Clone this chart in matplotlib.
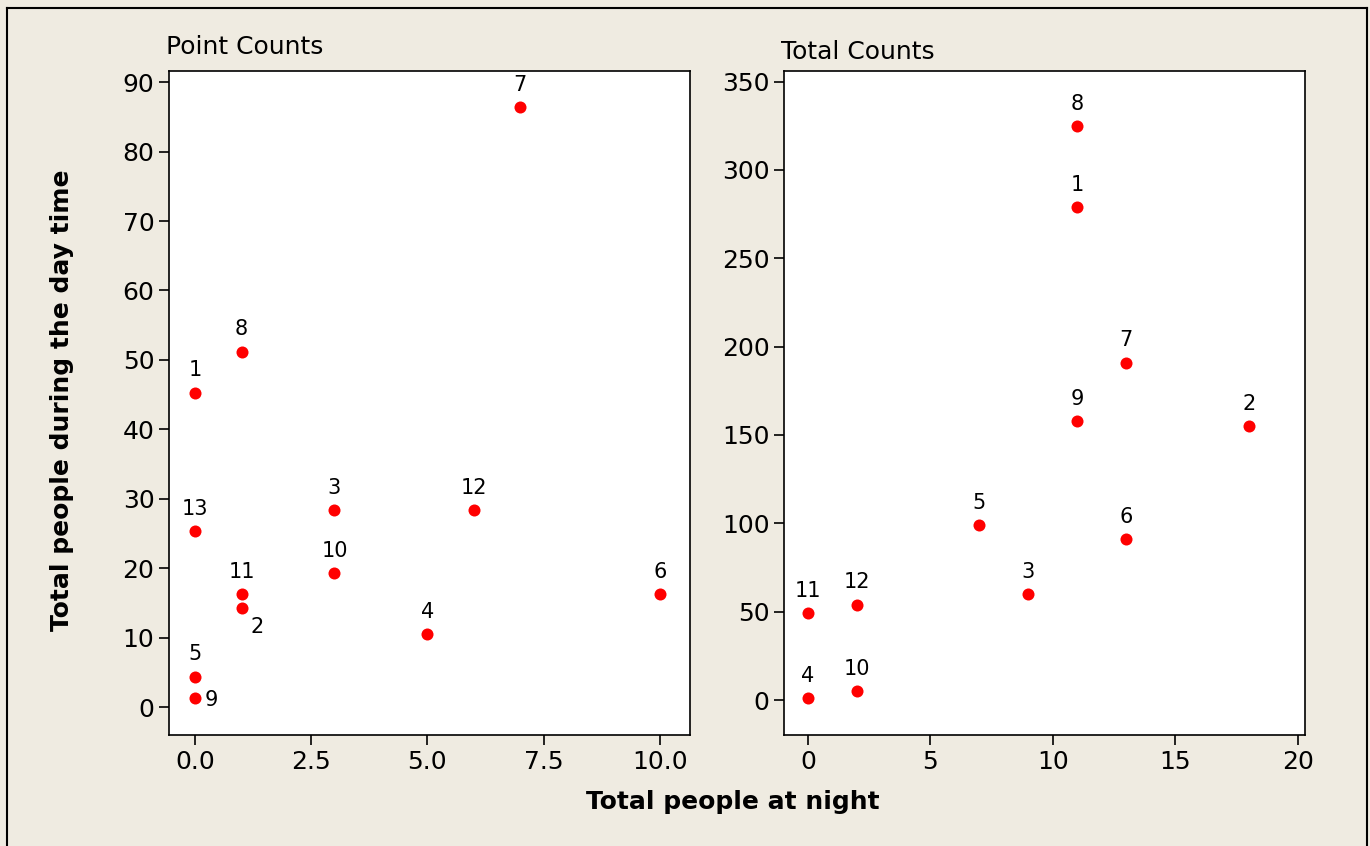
import matplotlib
matplotlib.use("Agg")
import matplotlib.pyplot as plt
from matplotlib.lines import Line2D

# point counts panel
pc_ids = ['1', '8', '7', '13', '3', '12', '10', '11', '2', '6', '4', '5', '9']
pc_night = [0, 1, 7, 0, 3, 6, 3, 1, 1, 10, 5, 0, 0]
pc_day = [45.3, 51.2, 86.4, 25.3, 28.4, 28.4, 19.3, 16.3, 14.3, 16.3, 10.5, 4.4, 1.3]

# total counts panel
tc_ids = ['8', '1', '7', '9', '2', '5', '6', '3', '11', '12', '10', '4']
tc_night = [11, 11, 13, 11, 18, 7, 13, 9, 0, 2, 2, 0]
tc_day = [325, 279, 191, 158, 155, 99, 91, 60, 49, 54, 5, 1]

# labels that sit beside the point instead of above it (offsets in points)
side_offsets = {'2': (11, -14), '9': (12, -1)}

bg = '#EFEBE1'
fig = plt.figure(figsize=(13.7, 8.46), dpi=100, facecolor=bg)

# thin frame around the graph region
for xs, ys in [((7/1370, 7/1370), (0, 1 - 8/846)),
               ((7/1370, 1367/1370), (1 - 8/846, 1 - 8/846)),
               ((1367/1370, 1367/1370), (1 - 8/846, 0))]:
    fig.add_artist(Line2D(xs, ys, transform=fig.transFigure, color='black', lw=1.5))

ax1 = fig.add_axes([169/1370, 1 - 735/846, 521/1370, 664/846])
ax2 = fig.add_axes([784/1370, 1 - 735/846, 521/1370, 664/846])


def draw_panel(ax, xs, ys, ids, title, title_y, offsets):
    ax.set_facecolor('white')
    ax.scatter(xs, ys, s=75, color='#FF0000', zorder=3, linewidths=0)
    for x, y, lab in zip(xs, ys, ids):
        off = offsets.get(lab, (0, 16))
        ax.annotate(lab, (x, y), xytext=off, textcoords='offset points',
                    ha='center', va='center', fontsize=15)
    for sp in ax.spines.values():
        sp.set_linewidth(1.2)
    ax.tick_params(direction='out', length=7, width=1.2, labelsize=18,
                   top=False, right=False)
    ax.set_title(title, fontsize=18, loc='left', x=-0.005, y=title_y, pad=0)


draw_panel(ax1, pc_night, pc_day, pc_ids, 'Point Counts', 1.025, side_offsets)
ax1.set_xlim(-0.56, 10.65)
ax1.set_ylim(-4.0, 91.6)
ax1.set_xticks([0, 2.5, 5, 7.5, 10])
ax1.set_xticklabels(['0.0', '2.5', '5.0', '7.5', '10.0'])
ax1.set_yticks(range(0, 91, 10))

draw_panel(ax2, tc_night, tc_day, tc_ids, 'Total Counts', 1.018, {})
ax2.set_xlim(-0.98, 20.3)
ax2.set_ylim(-19.8, 356)
ax2.set_xticks(range(0, 21, 5))
ax2.set_yticks(range(0, 351, 50))

fig.text(62/1370, 1 - 400/846, 'Total people during the day time', rotation=90,
         ha='center', va='center', fontsize=18, fontweight='bold')
fig.text(733/1370, 1 - 802/846, 'Total people at night',
         ha='center', va='center', fontsize=18, fontweight='bold')

fig.savefig('out.png', dpi=100, facecolor=bg)
